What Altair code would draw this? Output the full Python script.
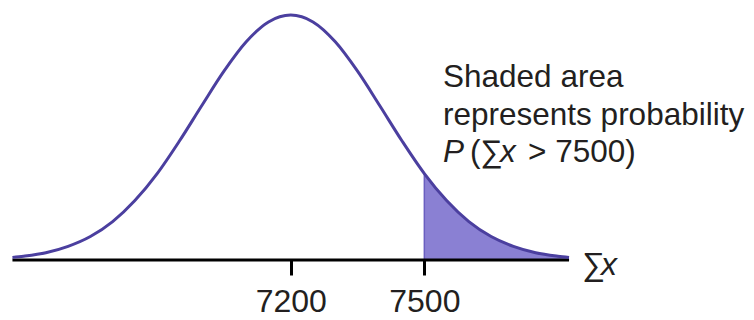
import altair as alt
import pandas as pd

# ---- data ----
curve_x = [6575, 6600, 6650, 6700, 6750, 6800, 6850, 6900, 6950, 7000, 7050, 7100, 7150,
           7200, 7250, 7300, 7350, 7400, 7450, 7500, 7550, 7600, 7650, 7700, 7750, 7800, 7825]
curve_h = [1.1, 1.6, 3.0, 5.6, 9.6, 15.7, 24.3, 35.3, 48.6, 63.0, 77.1, 89.1, 97.2,
           100.0, 97.2, 89.1, 77.1, 63.0, 48.6, 35.3, 24.3, 15.7, 9.6, 5.6, 3.0, 1.6, 1.1]
tick_values = [7200, 7500]
threshold = 7500
axis_start, axis_end = 6575, 7825
note_lines = ["Shaded area", "represents probability"]
prob_parts = ["P", "(∑", "x", "> 7500)"]
axis_title_parts = ["∑", "x"]

# ---- style ----
FONT = "Liberation Sans"
FS = 32
FS_NOTE = 31.5
TEXT = "#231f20"
LINE = "#4b3f9f"
FILL = "#8a80d3"
EDGE = "#6a5fc0"

W, H = 738, 304
x_scale = alt.Scale(domain=[6565, 8222.4], nice=False, zero=False)
y_scale = alt.Scale(domain=[-21.2, 102.9], nice=False, zero=False)

curve = pd.DataFrame({"x": curve_x, "h": curve_h})
curve["z"] = 0.0
tail = curve[curve["x"] >= threshold]
edge_df = tail[tail["x"] == threshold]

x_axis = alt.Axis(values=tick_values, format="d", domain=False, grid=False,
                  ticks=True, tickSize=15, tickWidth=3, tickColor="black",
                  labelFontSize=FS, labelFont=FONT, labelColor=TEXT, labelPadding=11,
                  offset=-52, title=None, labelFlush=False, labelOverlap=False)

def X(field):
    return alt.X(field, scale=x_scale, axis=x_axis, title=None)

def Y(field):
    return alt.Y(field, scale=y_scale, axis=None, title=None)

area = alt.Chart(tail).mark_area(color=FILL, opacity=1, interpolate="monotone").encode(
    x=X("x:Q"),
    y=alt.Y("h:Q", scale=y_scale, axis=None, stack=None),
    y2="z:Q",
)

edge = alt.Chart(edge_df).mark_rule(color=EDGE, strokeWidth=1.5).encode(
    x=X("x:Q"), y=Y("h:Q"), y2="z:Q",
)

baseline = alt.Chart(pd.DataFrame({"x": [axis_start], "b": [axis_end], "z": [0.0]})).mark_rule(
    color="black", strokeWidth=3).encode(
    x=X("x:Q"), x2="b:Q", y=Y("z:Q"),
)

line = alt.Chart(curve).mark_line(color=LINE, strokeWidth=3, interpolate="monotone").encode(
    x=X("x:Q"), y=Y("h:Q"),
)

def txt(s, xv, yv, dx=0, italic=False, size=FS):
    return alt.Chart(pd.DataFrame({"t": [s], "x": [xv], "py": [yv]})).mark_text(
        align="left", baseline="alphabetic", font=FONT, fontSize=size, color=TEXT,
        fontStyle="italic" if italic else "normal", dx=dx).encode(
        x=X("x:Q"), y=Y("py:Q"), text="t:N")

NOTE_X = 7542
notes = [
    txt(note_lines[0], NOTE_X, 70.6, size=FS_NOTE),
    txt(note_lines[1], NOTE_X, 55.1, size=FS_NOTE),
    txt(prob_parts[0], NOTE_X, 40.0, dx=0, italic=True, size=FS_NOTE),
    txt(prob_parts[1], NOTE_X, 40.0, dx=27, size=FS_NOTE),
    txt(prob_parts[2], NOTE_X, 40.0, dx=57, italic=True, size=FS_NOTE),
    txt(prob_parts[3], NOTE_X, 40.0, dx=85, size=FS_NOTE),
    txt(axis_title_parts[0], 7854, -6.1),
    txt(axis_title_parts[1], 7854, -6.1, dx=19, italic=True),
]

chart = alt.layer(area, edge, baseline, line, *notes).properties(
    width=W, height=H, padding=0,
    autosize=alt.AutoSizeParams(type="none"),
).configure_view(stroke=None)

chart.save("out.html", embed_options={"renderer": "svg", "actions": False})
